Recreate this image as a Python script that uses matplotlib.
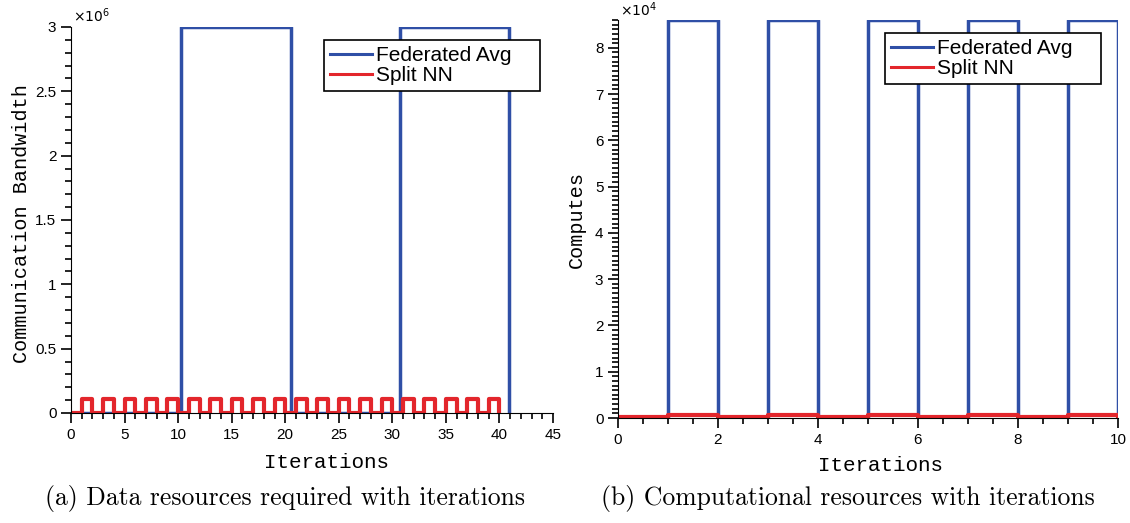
import matplotlib
matplotlib.use("Agg")
import matplotlib.pyplot as plt
from matplotlib.ticker import MultipleLocator, FuncFormatter

# (a) communication bandwidth vs iterations
fed_iters_a = [0, 10.3, 20.5, 30.7, 40.9]
fed_bw = [0, 3e6, 0, 3e6, 0]
split_iters_a = [0, 1, 2, 3, 4, 5, 6, 7, 8, 9, 10, 11, 12, 13, 14, 15, 16, 17, 18, 19, 20,
                 21, 22, 23, 24, 25, 26, 27, 28, 29, 30, 31, 32, 33, 34, 35, 36, 37, 38, 39, 40]
split_bw = [0, 1.1e5, 0, 1.1e5, 0, 1.1e5, 0, 1.1e5, 0, 1.1e5, 0, 1.1e5, 0, 1.1e5, 0, 1.1e5, 0, 1.1e5, 0, 1.1e5, 0,
            1.1e5, 0, 1.1e5, 0, 1.1e5, 0, 1.1e5, 0, 1.1e5, 0, 1.1e5, 0, 1.1e5, 0, 1.1e5, 0, 1.1e5, 0, 1.1e5, 0]

# (b) computes vs iterations
iters_b = [0, 1, 2, 3, 4, 5, 6, 7, 8, 9, 10]
fed_comp = [0, 8.6e4, 0, 8.6e4, 0, 8.6e4, 0, 8.6e4, 0, 8.6e4, 0]
split_comp = [150, 700, 150, 700, 150, 700, 150, 700, 150, 700, 150]

labels = ["Federated Avg    ", "Split NN"]

BLUE = "#2f4fa6"
RED = "#e3262c"
TICKFONT = "Liberation Sans"
MONO = "Liberation Mono"

fig = plt.figure(figsize=(11.3, 5.23), dpi=100)
W, H = 1130, 523

def setup(ax):
    for s in ("top", "right"):
        ax.spines[s].set_visible(False)
    ax.tick_params(which="both", direction="out", labelsize=11, width=1.2)
    ax.tick_params(which="major", length=7)
    ax.tick_params(which="minor", length=4)
    for lab in ax.get_xticklabels() + ax.get_yticklabels():
        lab.set_fontfamily(TICKFONT)

def add_legend(ax, anchor):
    leg = ax.legend(loc="upper right", bbox_to_anchor=anchor, bbox_transform=fig.transFigure,
                    borderaxespad=0, fancybox=False, edgecolor="black", framealpha=1,
                    prop={"family": TICKFONT, "size": 15}, handlelength=2.0, handletextpad=0.2,
                    labelspacing=0.05, borderpad=0.28)
    leg.get_frame().set_linewidth(1.2)
    for l in leg.get_lines():
        l.set_linewidth(2.2)

# panel a
ax1 = fig.add_axes([71 / W, 1 - 413 / H, (553 - 71) / W, (413 - 27) / H])
ax1.plot(fed_iters_a, fed_bw, drawstyle="steps-post", color=BLUE, lw=2.5, label=labels[0])
ax1.plot(split_iters_a, split_bw, drawstyle="steps-post", color=RED, lw=3, label=labels[1])
ax1.set_xlim(0, 45)
ax1.set_ylim(0, 3e6)
ax1.xaxis.set_major_locator(MultipleLocator(5))
ax1.xaxis.set_minor_locator(MultipleLocator(1))
ax1.yaxis.set_major_locator(MultipleLocator(0.5e6))
ax1.yaxis.set_minor_locator(MultipleLocator(0.1e6))
ax1.yaxis.set_major_formatter(FuncFormatter(lambda v, p: "%g" % (v / 1e6)))
setup(ax1)
ax1.text(0.005, 1.005, r"$\times10^{6}$", transform=ax1.transAxes, fontsize=10, va="bottom", ha="left")
ax1.set_xlabel("Iterations", fontfamily=MONO, fontsize=15)
ax1.xaxis.set_label_coords((326 - 71) / 482, (413 - 453) / 386)
ax1.set_ylabel("Communication Bandwidth", fontfamily=MONO, fontsize=14.5)
ax1.yaxis.set_label_coords((31 - 71) / 482, 0.49)
add_legend(ax1, (540 / W, 1 - 40 / H))

# panel b
ax2 = fig.add_axes([618 / W, 1 - 418 / H, (1118 - 618) / W, (418 - 20) / H])
ax2.plot(iters_b, fed_comp, drawstyle="steps-post", color=BLUE, lw=2.5, label=labels[0])
ax2.plot(iters_b, split_comp, drawstyle="steps-post", color=RED, lw=3, label=labels[1])
ax2.set_xlim(0, 10)
ax2.set_ylim(0, 8.6e4)
ax2.xaxis.set_major_locator(MultipleLocator(2))
ax2.xaxis.set_minor_locator(MultipleLocator(0.5))
ax2.yaxis.set_major_locator(MultipleLocator(1e4))
ax2.yaxis.set_minor_locator(MultipleLocator(0.1e4))
ax2.yaxis.set_major_formatter(FuncFormatter(lambda v, p: "%g" % (v / 1e4)))
setup(ax2)
ax2.text(0.005, 1.003, r"$\times10^{4}$", transform=ax2.transAxes, fontsize=10, va="bottom", ha="left")
ax2.set_xlabel("Iterations", fontfamily=MONO, fontsize=15)
ax2.xaxis.set_label_coords((880 - 618) / 500, (418 - 456) / 398)
ax2.set_ylabel("Computes", fontfamily=MONO, fontsize=14.5)
ax2.yaxis.set_label_coords((586 - 618) / 500, 0.5)
add_legend(ax2, (1101 / W, 1 - 33 / H))

# captions
fig.text(285 / W, 1 - 498 / H, "(a) Data resources required with iterations",
         fontfamily="cmr10", fontsize=18.5, ha="center", va="center")
fig.text(848 / W, 1 - 498 / H, "(b) Computational resources with iterations",
         fontfamily="cmr10", fontsize=18.5, ha="center", va="center")

fig.savefig("out.png", dpi=100)
